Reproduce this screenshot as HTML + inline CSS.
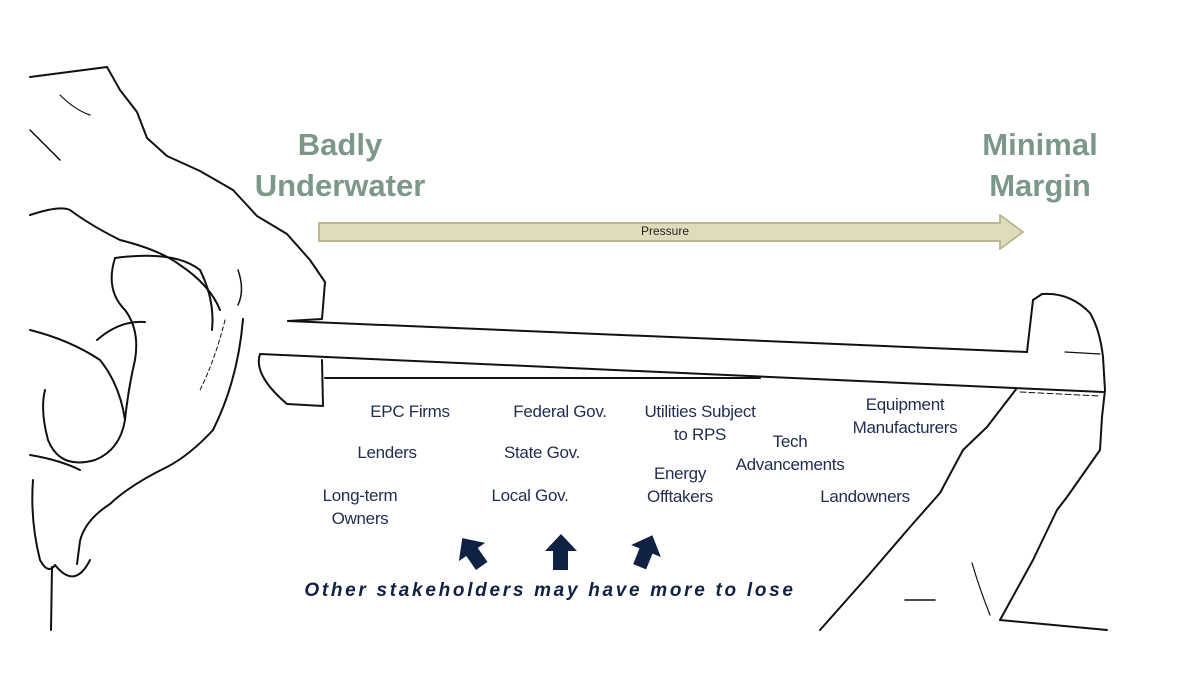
<!DOCTYPE html>
<html><head><meta charset="utf-8"><style>
html,body{margin:0;padding:0;background:#fff;}
body{width:1200px;height:675px;position:relative;overflow:hidden;font-family:"Liberation Sans",sans-serif;}
.t{position:absolute;color:#1f2d4e;font-size:17px;text-align:center;white-space:nowrap;line-height:23px;letter-spacing:-0.3px}
.h{position:absolute;color:#7b9888;font-weight:bold;font-size:31px;line-height:41px;text-align:center;white-space:nowrap}
</style></head><body>
<svg width="1200" height="675" style="position:absolute;left:0;top:0" fill="none" stroke="#111" stroke-width="2" stroke-linejoin="round" stroke-linecap="round">
<path d="M30,77 L107,67 L120,90 L137,112 L147,138 L167,156 L200,171 L233,190 L257,216 L287,234 L310,260 L325,282 L322,319 L288,321"/>
<path d="M288,321 L1027,352"/>
<path d="M260,354 L1103,392"/>
<path d="M260,354 Q253,375 287,404 L323,406 L322,360"/>
<path d="M325,378 L760,378"/>
<path d="M243,319 Q238,380 213,430 Q190,455 167,467 Q130,485 110,504 Q85,520 80,541 L77,564"/>
<path d="M30,215 Q60,205 70,210 Q90,225 120,240 Q160,250 180,265 Q210,285 220,310"/>
<path d="M30,330 Q70,340 100,360 Q120,385 125,420"/>
<path d="M115,258 Q175,250 200,270 Q215,300 212,330"/>
<path d="M115,258 Q105,290 125,310 Q140,330 135,360 Q128,390 125,420 Q120,450 95,460 Q60,470 48,440 Q40,410 45,390"/>
<path d="M97,340 Q120,320 145,322"/>
<path d="M30,455 Q60,460 80,470"/>
<path d="M33,480 Q30,520 40,560 Q48,575 55,565 Q75,590 90,560"/>
<path d="M52,567 L51,630"/>
<path d="M30,130 Q50,150 60,160" stroke-width="1.5"/>
<path d="M60,95 Q75,110 90,115" stroke-width="1.2"/>
<path d="M238,270 Q245,290 238,305" stroke-width="1.5"/>
<path d="M225,320 Q215,360 200,390" stroke-width="1" stroke-dasharray="4 3"/>
<path d="M1027,352 L1033,300 L1042,294 Q1070,292 1090,313 Q1100,330 1103,357 L1105,390 L1102,417 L1100,450 L1067,497 L1057,510 L1033,560 L1000,620"/>
<path d="M1017,388 L987,427 L963,450 L940,493 L910,527 L867,577 L820,630"/>
<path d="M1000,620 L1107,630"/>
<path d="M1065,352 L1100,354" stroke-width="1.2"/>
<path d="M1020,392 L1100,396" stroke-width="1" stroke-dasharray="6 3"/>
<path d="M972,563 Q980,590 990,615" stroke-width="1.2"/>
<path d="M905,600 L935,600" stroke-width="1.5"/>
<path d="M319,223 L1000,223 L1000,215 L1023,232 L1000,249 L1000,241 L319,241 Z" fill="#e0dcbb" stroke="#b9b893" stroke-width="2"/>
<g fill="#0f2243" stroke="none">
<path transform="rotate(-35 472 552)" d="M472,535 L488,552 L479,552 L479,569 L465,569 L465,552 L456,552 Z"/>
<path d="M561,534 L577,551 L568,551 L568,570 L553,570 L553,551 L545,551 Z"/>
<path transform="rotate(22 646 551)" d="M646,534 L662,551 L653,551 L653,568 L639,568 L639,551 L630,551 Z"/>
</g>
</svg>
<div class="h" style="left:240px;top:124px;width:200px">Badly<br>Underwater</div>
<div class="h" style="left:960px;top:124px;width:160px">Minimal<br>Margin</div>
<div style="position:absolute;left:600px;top:224px;width:130px;text-align:center;font-size:12px;color:#222">Pressure</div>
<div class="t" style="left:355px;top:400px;width:110px">EPC Firms</div>
<div class="t" style="left:337px;top:441px;width:100px">Lenders</div>
<div class="t" style="left:305px;top:484px;width:110px">Long-term<br>Owners</div>
<div class="t" style="left:490px;top:400px;width:140px">Federal Gov.</div>
<div class="t" style="left:482px;top:441px;width:120px">State Gov.</div>
<div class="t" style="left:470px;top:484px;width:120px">Local Gov.</div>
<div class="t" style="left:630px;top:400px;width:140px">Utilities Subject<br>to RPS</div>
<div class="t" style="left:630px;top:462px;width:100px">Energy<br>Offtakers</div>
<div class="t" style="left:725px;top:430px;width:130px">Tech<br>Advancements</div>
<div class="t" style="left:835px;top:393px;width:140px">Equipment<br>Manufacturers</div>
<div class="t" style="left:810px;top:485px;width:110px">Landowners</div>
<div style="position:absolute;left:280px;top:580px;width:540px;text-align:center;font-size:19px;font-weight:900;font-style:italic;color:#0f2243;letter-spacing:2.7px;white-space:nowrap">Other stakeholders may have more to lose</div>
</body></html>
